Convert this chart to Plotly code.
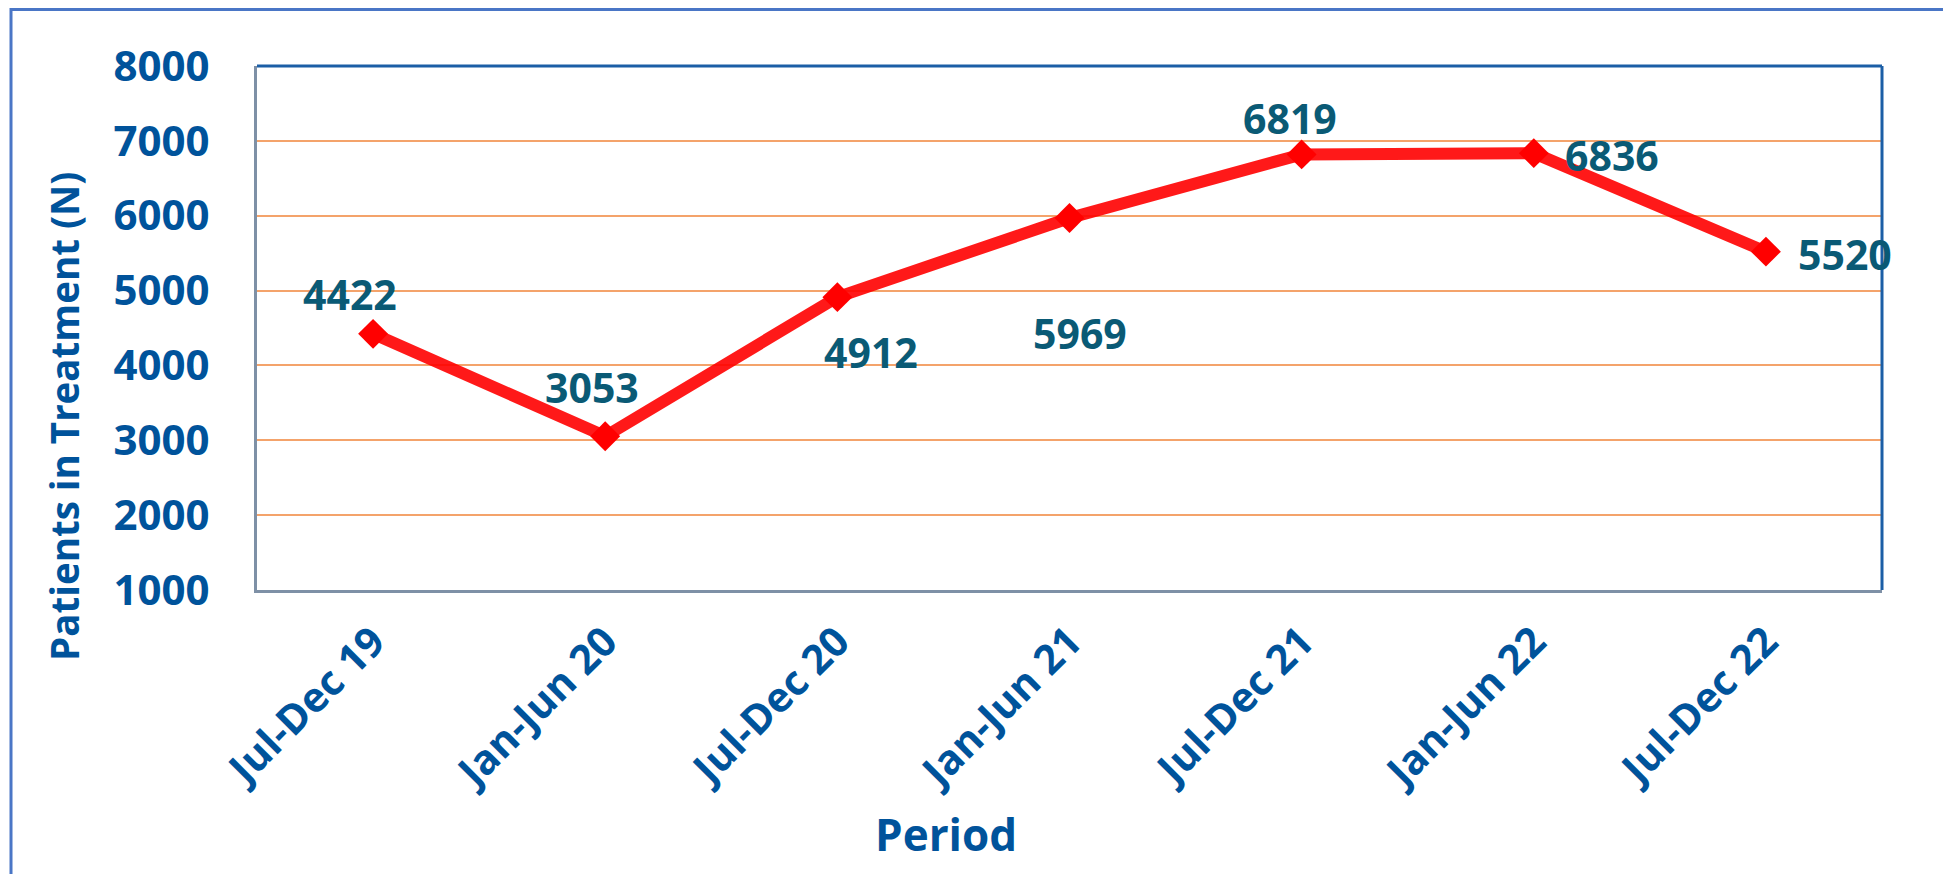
import plotly.graph_objects as go

periods = ["Jul-Dec 19", "Jan-Jun 20", "Jul-Dec 20", "Jan-Jun 21", "Jul-Dec 21", "Jan-Jun 22", "Jul-Dec 22"]
patients = [4422, 3053, 4912, 5969, 6819, 6836, 5520]
y_ticks = [1000, 2000, 3000, 4000, 5000, 6000, 7000, 8000]

# label offsets (pixels) for the data labels
label_dx = [-23, -13, 34, 10, -12, 78, 79]
label_dy = [40, 49, -55, -115, 36, -2, -2]

OFF = 8  # page body margin
W, H = 1951 - OFF, 874 - OFF
L, T = 257 - OFF, 66 - OFF
R = W - (1882 - OFF)
B = H - (590 - OFF)
PW, PH = W - L - R, H - T - B

FONT = "Open Sans"
TICK_BLUE = "#00539B"
LABEL_TEAL = "#0A5A75"

fig = go.Figure()
fig.add_trace(go.Scatter(
    x=periods, y=patients, mode="lines+markers",
    line=dict(color="rgba(255,0,0,0.9)", width=12),
    marker=dict(symbol="diamond", size=23, color="#FF0000"),
    hoverinfo="x+y", showlegend=False,
))

for p, v, dx, dy in zip(periods, patients, label_dx, label_dy):
    fig.add_annotation(x=p, y=v, xref="x", yref="y", text=str(v), showarrow=False,
                       xshift=dx, yshift=dy,
                       font=dict(family=FONT, size=41, color=LABEL_TEAL, weight="bold"))

def px_x(px):
    return (px - OFF - L) / PW

def px_y(py):
    return 1 - (py - OFF - T) / PH

# outer chart border (left/top visible)
fig.add_shape(type="rect", xref="paper", yref="paper",
              x0=px_x(11), x1=px_x(1990), y0=px_y(9.5), y1=px_y(920),
              line=dict(color="#4A76C6", width=3), fillcolor="rgba(0,0,0,0)", layer="below")
# plot area top/right borders
fig.add_shape(type="line", xref="paper", yref="paper", x0=0, x1=1, y0=1, y1=1,
              line=dict(color="#1B5EA6", width=3), layer="above")
fig.add_shape(type="line", xref="paper", yref="paper", x0=1, x1=1, y0=0, y1=1,
              line=dict(color="#1B5EA6", width=3), layer="above")

# axis titles
fig.add_annotation(xref="paper", yref="paper", x=px_x(64), y=px_y(417),
                   text="Patients in Treatment (N)", textangle=-90, showarrow=False,
                   xanchor="center", yanchor="middle",
                   font=dict(family=FONT, size=38.5, color=TICK_BLUE, weight="bold"))
fig.add_annotation(xref="paper", yref="paper", x=px_x(946), y=px_y(834),
                   text="Period", showarrow=False, xanchor="center", yanchor="middle",
                   font=dict(family=FONT, size=44, color=TICK_BLUE, weight="bold"))

fig.update_layout(
    width=W, height=H,
    margin=dict(l=L, r=R, t=T, b=B, autoexpand=False),
    paper_bgcolor="white", plot_bgcolor="white",
    font=dict(family=FONT),
)
fig.update_xaxes(
    type="category", range=[-0.5, 6.5], tickangle=-45,
    tickfont=dict(family=FONT, size=41, color=TICK_BLUE, weight="bold"),
    showgrid=False, showline=True, linecolor="#7E90A6", linewidth=3,
    ticks="", ticklabelstandoff=8, zeroline=False,
)
fig.update_yaxes(
    range=[1000, 8000], tickvals=y_ticks,
    tickfont=dict(family=FONT, size=42, color=TICK_BLUE, weight="bold"),
    showgrid=True, gridcolor="#F4A36B", gridwidth=1.5,
    showline=True, linecolor="#7E90A6", linewidth=3,
    ticks="", ticklabelstandoff=36, zeroline=False,
)

fig.write_html("out.html")
